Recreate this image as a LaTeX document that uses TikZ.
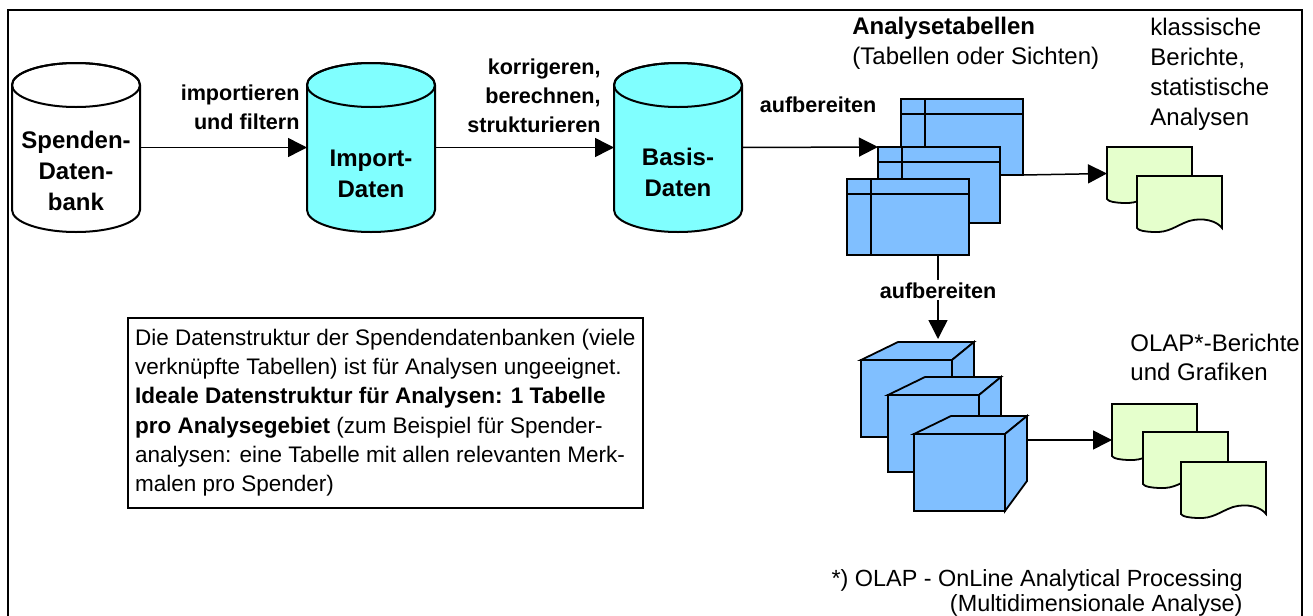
\documentclass[tikz,border=0pt]{standalone}
\usepackage{fontspec}
\setmainfont{Liberation Sans}
\usetikzlibrary{arrows.meta,positioning}

\definecolor{dbcyan}{RGB}{128,255,255}
\definecolor{tabblau}{RGB}{128,191,255}
\definecolor{dokgruen}{RGB}{229,255,204}

\begin{document}
\begin{tikzpicture}[x=0.5pt, y=-0.5pt,
	flow/.style={line width=0.75pt, -{Triangle[length=9.5pt,width=9.5pt]}},
	dbline/.style={line width=1pt},
	dbbox/.style={minimum width=64pt, minimum height=84.5pt, inner sep=0pt, outer sep=0pt},
	dbtext/.style={font=\fontsize{12}{15.5}\selectfont\bfseries, align=center},
	lbl/.style={font=\fontsize{10.8}{14.5}\selectfont\bfseries, inner xsep=0pt},
	txt/.style={font=\fontsize{12}{15}\selectfont, align=left, anchor=west, inner xsep=0pt},
	tabelle/.style={draw, line width=0.9pt, fill=tabblau, minimum width=61pt, minimum height=38pt, inner sep=0pt, outer sep=0pt, anchor=north west},
	wuerfel/.style={draw, line width=0.9pt, fill=tabblau, minimum width=45.5pt, minimum height=38.5pt, inner sep=0pt, outer sep=0pt, anchor=north west},
	dokbox/.style={minimum width=42.5pt, minimum height=26.5pt, inner sep=0pt, outer sep=0pt, anchor=north west},
	dokline/.style={line width=0.9pt, fill=dokgruen}]

				\useasboundingbox (0,0) rectangle (1313,616);
				\draw [line width=1pt] (8,640) |- (1302,10) -- (1302,640);

				% Datenbanken
				\foreach \n/\x/\col in {spenden/12/white, import/307/dbcyan, basis/614/dbcyan} {
					\filldraw [dbline, fill=\col] (\x,85) -- (\x,210) arc [start angle=180, end angle=0, x radius=64, y radius=22] -- (\x+128,85) arc [start angle=0, end angle=-180, x radius=64, y radius=22] -- cycle;
					\draw [dbline] (\x+64,85) ellipse [x radius=64, y radius=22];
					\node [dbbox] (\n) at (\x+64,147.5) {};
				}
				\node [dbtext] (spendentxt) at (76,171) {Spenden-\\Daten-\\bank};
				\node [dbtext] (importtxt) at (371,174) {Import-\\Daten};
				\node [dbtext] (basistxt) at (678,172) {Basis-\\Daten};

				\draw [flow] (spenden.east) -- (import.west);
				\draw [flow] (import.east) -- (basis.west);
				\node [lbl, align=right, anchor=east] (importlbl) at (300,107.5) {importieren\\und filtern};
				\node [lbl, align=right, anchor=east] (korrlbl) at (601,96) {korrigeren,\\berechnen,\\strukturieren};
				\node [lbl] (aufblbl) at (818,105) {aufbereiten};

				% Analysetabellen
				\foreach \n/\x/\y in {a/901/99, b/878/147, c/847/179} {
					\node [tabelle] (tab\n) at (\x,\y) {};
					\draw [line width=0.9pt] (\x,\y+15) -- (\x+122,\y+15);
					\draw [line width=0.9pt] (\x+24,\y) -- (\x+24,\y+76);
				}
				\draw [flow] (basis.east) -- (tabb.north west);
				\node [txt] (analysetab) at (852,43) {\textbf{Analysetabellen}\\(Tabellen oder Sichten)};

				% Berichte
				\foreach \n/\x/\y in {1/1107/147, 2/1137/176, 3/1112/404, 4/1143/432, 5/1181/462} {
					\begin{scope}[shift={(\x,\y)}]
						\filldraw [dokline] (0,0) -- (85,0) -- (85,52) .. controls (80,45) and (66,41) .. (52,45) .. controls (38,50) and (32,57) .. (16,56) .. controls (8,55.5) and (2,55) .. (0,52) -- cycle;
						\node [dokbox] (dok\n) at (0,0) {};
					\end{scope}
				}
				\draw [flow] (taba.south east) -- (dok1.west);
				\node [txt] (klassisch) at (1150,74) {klassische\\Berichte,\\statistische\\Analysen};

				% Wuerfel
				\coordinate (wuerfeltop) at (938,339);
				\draw [flow] (tabc.south -| wuerfeltop) -- (wuerfeltop) node [lbl, pos=0.42, fill=white, inner sep=1pt] (aufblbl2) {aufbereiten};
				\foreach \n/\x/\y in {a/861/360, b/888/395, c/914/434} {
					\filldraw [line width=0.9pt, fill=tabblau] (\x,\y) -- (\x+37,\y-18) -- (\x+113,\y-18) -- (\x+91,\y) -- cycle;
					\filldraw [line width=0.9pt, fill=tabblau] (\x+91,\y) -- (\x+113,\y-18) -- (\x+113,\y+47) -- (\x+91,\y+77) -- cycle;
					\node [wuerfel] (wuerfel\n) at (\x,\y) {};
				}
				\coordinate (wuerfelr) at (1027,440);
				\draw [flow] (wuerfelr) -- (wuerfelr -| dok3.west);
				\node [txt, font=\fontsize{12}{14.5}\selectfont] (olap) at (1130,357) {OLAP*-Berichte\\und Grafiken};

				\node [draw, line width=0.75pt, align=left, minimum width=257.5pt, minimum height=95pt, font=\fontsize{11.25}{14.6}\selectfont, anchor=north west] (hinweis) at (127,317) {Die Datenstruktur der Spendendatenbanken (viele\\verknüpfte Tabellen) ist für Analysen ungeeignet.\\\textbf{Ideale Datenstruktur für Analysen: 1 Tabelle}\\\textbf{pro Analysegebiet} (zum Beispiel für Spender-\\analysen: eine Tabelle mit allen relevanten Merk-\\malen pro Spender)};

				\node [font=\fontsize{11.7}{12.5}\selectfont, align=right, anchor=east, inner xsep=0pt] (fussnote) at (1243,593) {*) OLAP - OnLine Analytical Processing\\(Multidimensionale Analyse)};

\end{tikzpicture}
\end{document}
